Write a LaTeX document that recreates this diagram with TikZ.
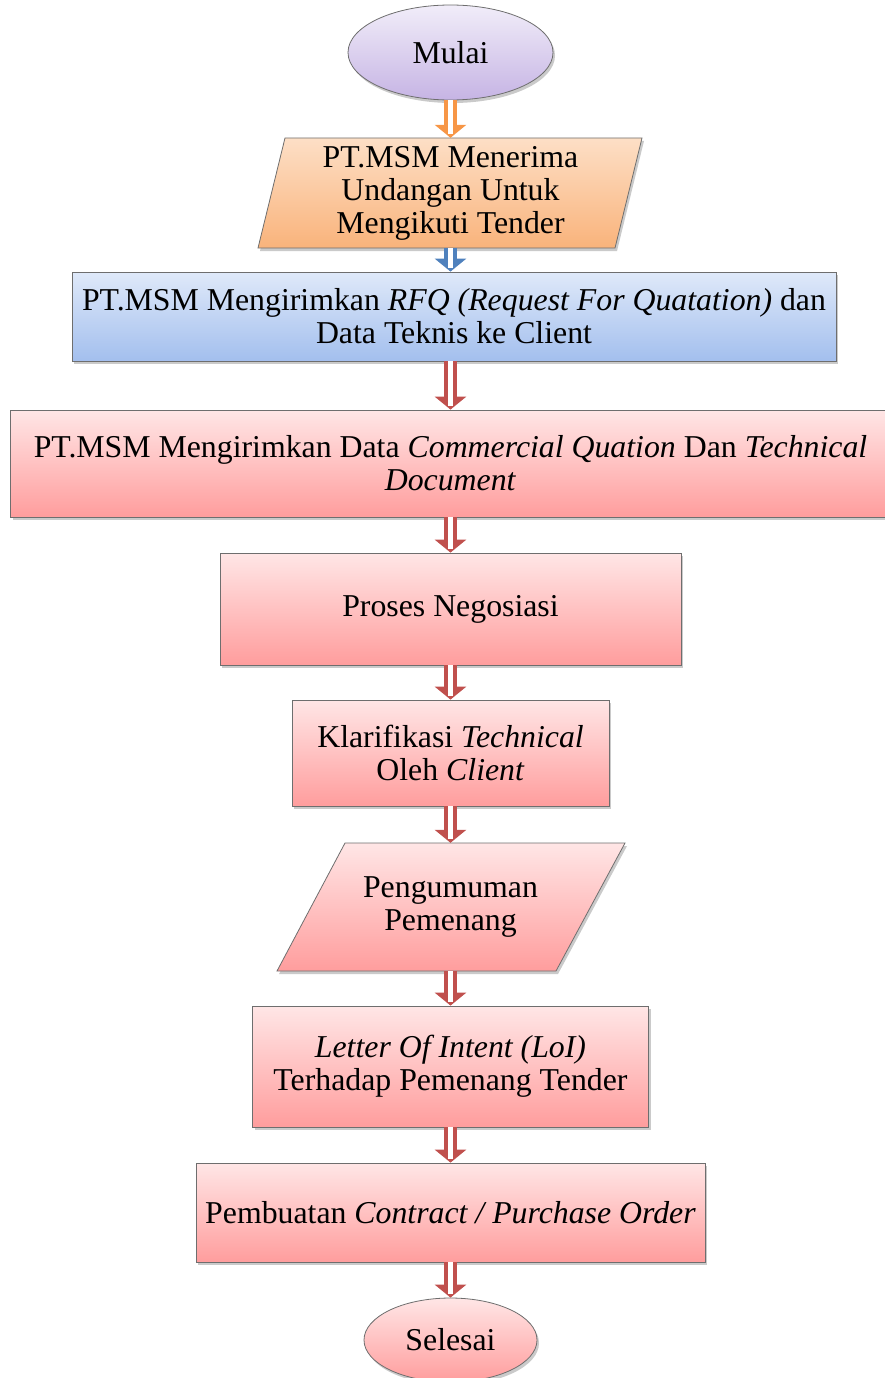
\documentclass[tikz,border=0pt]{standalone}
\usepackage{fontspec}
\setmainfont{Liberation Serif}
\usetikzlibrary{arrows.meta,shadows,shapes.geometric}
\definecolor{lavT}{HTML}{F1EDF9}
\definecolor{lavB}{HTML}{C6B4E4}
\definecolor{orT}{HTML}{FDDFC6}
\definecolor{orB}{HTML}{F9B37B}
\definecolor{blT}{HTML}{DFE9F9}
\definecolor{blB}{HTML}{A3BFEE}
\definecolor{pkT}{HTML}{FFE6E6}
\definecolor{pkB}{HTML}{FF9D9D}
\definecolor{lineC}{HTML}{6E6E6E}
\definecolor{arrR}{HTML}{C0504D}
\definecolor{arrB}{HTML}{4F81BD}
\definecolor{arrO}{HTML}{F79646}
\begin{document}
\begin{tikzpicture}[x=1pt,y=-1pt,
  txt/.style={font=\fontsize{31.8}{33}\selectfont, align=center, inner sep=0pt},
  shad/.style={drop shadow={shadow xshift=2pt, shadow yshift=-3pt, fill=black!60, opacity=0.35}},
  box/.style={txt, draw=lineC, line width=0.8pt, shad},
  pinkbox/.style={box, top color=pkT, bottom color=pkB},
  para/.style={draw=lineC, line width=0.8pt, shad},
  blockarr/.style={draw=#1, line width=13pt, -{Triangle[length=13pt,width=31pt]},
     postaction={draw=white, line width=4.5pt, -, shorten >=4pt}},
]
\useasboundingbox (0,0) rectangle (884,1378);

% start
\node[box, ellipse, top color=lavT, bottom color=lavB, minimum width=205pt, minimum height=95pt] (start) at (450.5,52.5) {Mulai};

% parallelogram 1
\path[para, top color=orT, bottom color=orB] (285,138) -- (642,138) -- (615,248) -- (258,248) -- cycle;
\node[txt, minimum height=110pt, minimum width=300pt] (recv) at (450.5,193) {PT.MSM Menerima\\Undangan Untuk\\Mengikuti Tender};

% blue box
\node[box, top color=blT, bottom color=blB, minimum width=764pt, minimum height=89pt] (rfq) at (454,316.5)
  {PT.MSM Mengirimkan \textit{RFQ (Request For Quatation)} dan\\Data Teknis ke Client};

% wide box
\node[pinkbox, minimum width=880pt, minimum height=107pt] (comm) at (450.5,463.5)
  {PT.MSM Mengirimkan Data \textit{Commercial Quation} Dan \textit{Technical}\\\textit{Document}};

\node[pinkbox, minimum width=461pt, minimum height=112pt] (nego) at (450.5,609) {Proses Negosiasi};

\node[pinkbox, minimum width=317pt, minimum height=106pt] (klar) at (450.5,753) {Klarifikasi \textit{Technical}\\Oleh \textit{Client}};

% parallelogram 2
\path[para, top color=pkT, bottom color=pkB] (345,843) -- (625,843) -- (556,971) -- (277,971) -- cycle;
\node[txt, minimum height=128pt, minimum width=220pt] (win) at (450.5,907) {Pengumuman\\Pemenang};

\node[pinkbox, minimum width=396pt, minimum height=121pt] (loi) at (450.5,1066.5) {\textit{Letter Of Intent (LoI)}\\Terhadap Pemenang Tender};

\node[pinkbox, minimum width=509pt, minimum height=99pt] (po) at (450.5,1212.5) {Pembuatan \textit{Contract / Purchase Order}};

\node[box, ellipse, top color=pkT, bottom color=pkB, minimum width=173pt, minimum height=84pt] (end) at (450.5,1340) {Selesai};

% connectors (all vertical)
\draw[blockarr=arrO] (start.south) -- (start.south |- recv.north);
\draw[blockarr=arrB] (recv.south) -- (recv.south |- rfq.north);
\draw[blockarr=arrR] (rfq.south -| comm.north) -- (comm.north);
\draw[blockarr=arrR] (comm.south) -- (comm.south |- nego.north);
\draw[blockarr=arrR] (nego.south) -- (nego.south |- klar.north);
\draw[blockarr=arrR] (klar.south) -- (klar.south |- win.north);
\draw[blockarr=arrR] (win.south) -- (win.south |- loi.north);
\draw[blockarr=arrR] (loi.south) -- (loi.south |- po.north);
\draw[blockarr=arrR] (po.south) -- (po.south |- end.north);
\end{tikzpicture}
\end{document}
